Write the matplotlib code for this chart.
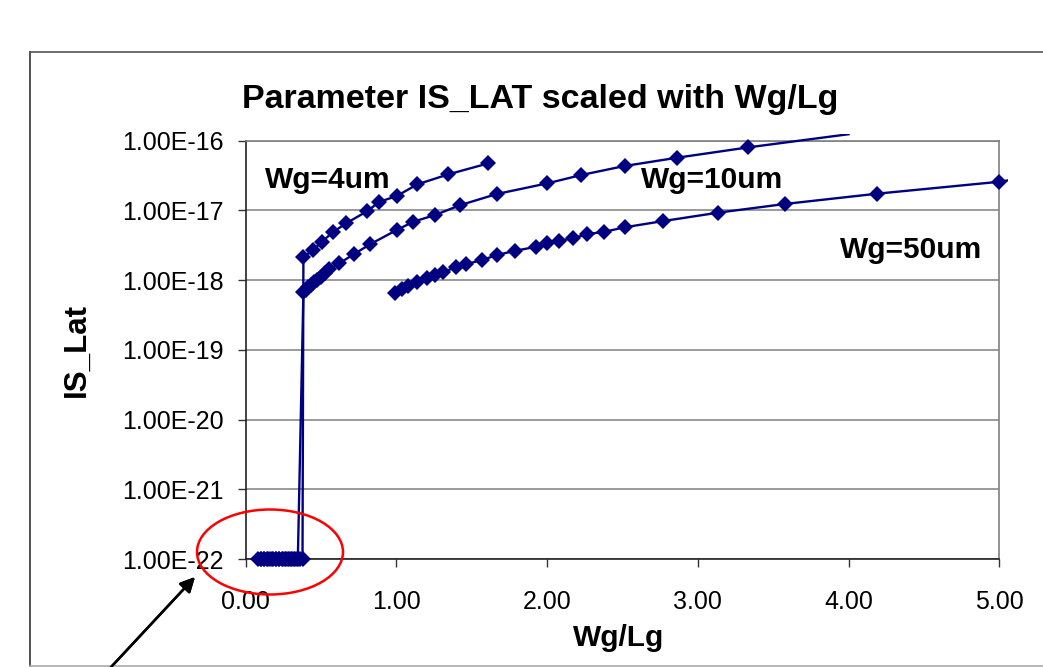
import matplotlib
matplotlib.use("Agg")
import matplotlib.pyplot as plt
from matplotlib.patches import Ellipse
from matplotlib.lines import Line2D
from matplotlib.ticker import FuncFormatter, NullLocator
from matplotlib.transforms import Bbox, TransformedBbox

plt.rcParams['font.family'] = ['Liberation Sans', 'DejaVu Sans']

# Wg = 4um : floor values (1E-22) then the measured branch
wg4_x = [0.08, 0.10, 0.12, 0.14, 0.16, 0.18, 0.20, 0.22, 0.24, 0.26, 0.28, 0.30,
         0.32, 0.34, 0.36, 0.378,
         0.384, 0.450, 0.506, 0.583, 0.667, 0.808, 0.888, 1.003, 1.140, 1.346, 1.611]
wg4_y = [1e-22, 1e-22, 1e-22, 1e-22, 1e-22, 1e-22, 1e-22, 1e-22, 1e-22, 1e-22, 1e-22, 1e-22,
         1e-22, 1e-22, 1e-22, 1e-22,
         2.17e-18, 2.70e-18, 3.56e-18, 4.94e-18, 6.53e-18, 9.79e-18, 1.33e-17, 1.61e-17,
         2.37e-17, 3.30e-17, 4.74e-17]

# Wg = 10um
wg10_x = [0.10, 0.125, 0.15, 0.175, 0.20, 0.225, 0.25, 0.27, 0.29, 0.31, 0.33, 0.347,
          0.384, 0.40, 0.417, 0.435, 0.455, 0.476, 0.50, 0.526, 0.556, 0.622, 0.720,
          0.826, 1.003, 1.113, 1.257, 1.423, 1.666, 2.003, 2.226, 2.514, 2.861, 3.336, 4.000]
wg10_y = [1e-22, 1e-22, 1e-22, 1e-22, 1e-22, 1e-22, 1e-22, 1e-22, 1e-22, 1e-22, 1e-22, 1e-22,
          6.8e-19, 7.2e-19, 7.9e-19, 8.5e-19, 9.3e-19, 1.02e-18, 1.12e-18, 1.26e-18, 1.45e-18,
          1.74e-18, 2.37e-18, 3.27e-18, 5.24e-18, 6.89e-18, 8.59e-18, 1.19e-17, 1.72e-17,
          2.45e-17, 3.22e-17, 4.34e-17, 5.70e-17, 8.04e-17, 1.24e-16]

# Wg = 50um
wg50_x = [0.992, 1.036, 1.080, 1.136, 1.202, 1.257, 1.313, 1.397, 1.463, 1.567, 1.667,
          1.788, 1.928, 1.999, 2.082, 2.171, 2.268, 2.381, 2.514, 2.772, 3.131, 3.580,
          4.19, 5.0, 5.56]
wg50_y = [6.59e-19, 7.38e-19, 8.22e-19, 9.29e-19, 1.06e-18, 1.18e-18, 1.32e-18, 1.53e-18,
          1.70e-18, 1.94e-18, 2.29e-18, 2.64e-18, 3.01e-18, 3.37e-18, 3.67e-18, 3.98e-18,
          4.58e-18, 4.94e-18, 5.73e-18, 7.05e-18, 9.27e-18, 1.24e-17, 1.74e-17, 2.58e-17,
          3.98e-17]

x_ticks = [0, 1, 2, 3, 4, 5]
y_ticks = [1e-22, 1e-21, 1e-20, 1e-19, 1e-18, 1e-17, 1e-16]

series_labels = [("Wg=4um", 0.13, 2.7e-17),
                 ("Wg=10um", 2.62, 2.7e-17),
                 ("Wg=50um", 3.945, 2.7e-18)]

NAVY = '#000080'
GRID = '#808080'

fig = plt.figure(figsize=(10.43, 6.67), dpi=100)
ax = fig.add_axes([0.2354, 0.1619, 0.7227, 0.6271])

# Excel-like clipping: a little looser than the plot area
clip = TransformedBbox(Bbox([[-0.02, -0.03], [1.012, 1.017]]), ax.transAxes)

style = dict(color=NAVY, lw=1.7, marker='D', markersize=8.2, markeredgewidth=0)
l4, = ax.plot(wg4_x, wg4_y, **style)
l10, = ax.plot(wg10_x, wg10_y, markevery=slice(0, len(wg10_x) - 1), **style)
l50, = ax.plot(wg50_x, wg50_y, markevery=slice(0, len(wg50_x) - 1), **style)
for ln in (l4, l10, l50):
    ln.set_clip_box(clip)
    ln.set_zorder(3)

ax.set_yscale('log')
ax.set_xlim(0, 5)
ax.set_ylim(1e-22, 1e-16)
ax.set_xticks(x_ticks)
ax.set_yticks(y_ticks)
ax.yaxis.set_minor_locator(NullLocator())
ax.xaxis.set_major_formatter(FuncFormatter(lambda v, p: f"{v:.2f}"))
ax.yaxis.set_major_formatter(FuncFormatter(lambda v, p: f"{v:.2E}"))
ax.tick_params(axis='both', direction='out', length=6, width=1.0, color='#333333',
               labelsize=18)
ax.tick_params(axis='y', pad=10)
ax.tick_params(axis='x', pad=16)

ax.yaxis.grid(True, color=GRID, lw=1.1)
ax.set_axisbelow(True)
for side in ('top', 'right'):
    ax.spines[side].set_color(GRID)
    ax.spines[side].set_linewidth(1.2)
for side in ('left', 'bottom'):
    ax.spines[side].set_color('#222222')
    ax.spines[side].set_linewidth(1.2)

ax.set_xlabel('Wg/Lg', fontsize=21.5, fontweight='bold')
ax.xaxis.set_label_coords(0.495, -0.155)
ax.set_ylabel('IS_Lat', fontsize=22.5, fontweight='bold')
ax.yaxis.set_label_coords(-0.204, 0.5)

for text, tx, ty in series_labels:
    ax.text(tx, ty, text, fontsize=21.5, fontweight='bold', ha='left', va='center')

fig.text(0.5177, 0.851, 'Parameter IS_LAT scaled with Wg/Lg', fontsize=24.5,
         fontweight='bold', ha='center', va='center')

# outer chart frame
fig.add_artist(Line2D([30 / 1043, 30 / 1043], [1 - 52 / 667, 1 - 666 / 667],
                      transform=fig.transFigure, color='#333333', lw=1.2))
fig.add_artist(Line2D([30 / 1043, 1.0], [1 - 52 / 667, 1 - 52 / 667],
                      transform=fig.transFigure, color='#555555', lw=1.2))
fig.add_artist(Line2D([30 / 1043, 1.0], [1 - 666 / 667, 1 - 666 / 667],
                      transform=fig.transFigure, color='#aaaaaa', lw=1.2))

# red highlight around the floor values
fig.add_artist(Ellipse((270 / 1043, 1 - 552 / 667), 146 / 1043, 85 / 667,
                       transform=fig.transFigure, fill=False, edgecolor='red', lw=1.8))
fig.add_artist(plt.annotate('', xy=(195 / 1043, 1 - 577 / 667),
                            xytext=(108 / 1043, -0.005), xycoords='figure fraction',
                            textcoords='figure fraction',
                            arrowprops=dict(arrowstyle='-|>', color='black', lw=1.8,
                                            mutation_scale=22, shrinkA=0, shrinkB=0)))

fig.savefig('out.png', dpi=100)
